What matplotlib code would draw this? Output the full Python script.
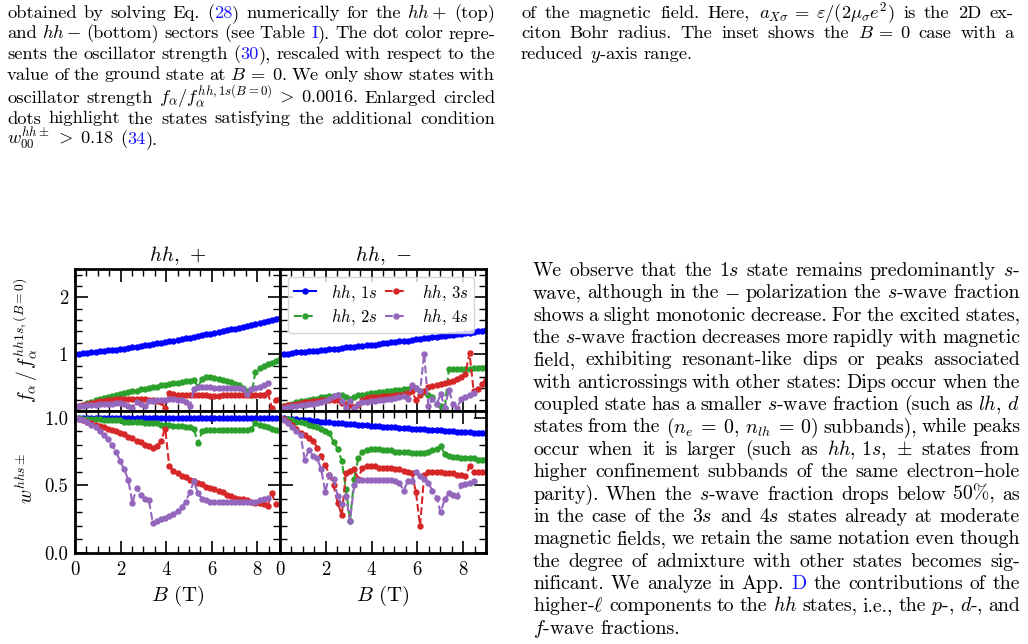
import re
import numpy as np
import matplotlib
matplotlib.use("Agg")
import matplotlib.pyplot as plt
from matplotlib.ticker import MultipleLocator, FixedLocator, FormatStrFormatter

plt.rcParams['font.family'] = ['cmr10', 'DejaVu Serif']
plt.rcParams['mathtext.fontset'] = 'cm'
plt.rcParams['axes.unicode_minus'] = False

# magnetic field grid (T)
B_T = [0.00, 0.18, 0.36, 0.54, 0.72, 0.90, 1.08, 1.26, 1.44, 1.62,
       1.80, 1.98, 2.16, 2.34, 2.52, 2.70, 2.88, 3.06, 3.24, 3.42,
       3.60, 3.78, 3.96, 4.14, 4.32, 4.50, 4.68, 4.86, 5.04, 5.22,
       5.40, 5.58, 5.76, 5.94, 6.12, 6.30, 6.48, 6.66, 6.84, 7.02,
       7.20, 7.38, 7.56, 7.74, 7.92, 8.10, 8.28, 8.46, 8.64, 8.82, 9.00]
nan = np.nan

# oscillator strength, hh+ sector
f_plus_1s = [1.00, 1.01, 1.02, 1.02, 1.03, 1.04, 1.05, 1.06, 1.07, 1.08,
             1.08, 1.09, 1.10, 1.11, 1.12, 1.13, 1.15, 1.16, 1.17, 1.18,
             1.19, 1.20, 1.21, 1.23, 1.24, 1.25, 1.27, 1.28, 1.29, 1.31,
             1.32, 1.33, 1.35, 1.36, 1.38, 1.39, 1.41, 1.42, 1.44, 1.45,
             1.47, 1.48, 1.50, 1.52, 1.53, 1.55, 1.57, 1.59, 1.60, 1.62, 1.64]
f_plus_2s = [0.06, 0.09, 0.11, 0.14, 0.16, 0.19, 0.21, 0.23, 0.25, 0.27,
             0.28, 0.30, 0.32, 0.33, 0.35, 0.36, 0.38, 0.39, 0.41, 0.42,
             0.43, 0.45, 0.46, 0.47, 0.49, 0.50, 0.51, 0.52, 0.53, 0.55,
             0.42, 0.57, 0.59, 0.59, 0.58, 0.57, 0.55, 0.53, 0.51, 0.48,
             0.45, 0.40, 0.35, 0.29, 0.68, 0.76, 0.79, 0.82, 0.85, 0.88, 0.91]
f_plus_3s = [0.07, 0.09, 0.11, 0.13, 0.14, 0.16, 0.17, 0.18, 0.19, 0.20,
             0.21, 0.21, 0.22, 0.22, 0.22, 0.22, 0.21, 0.21, 0.20, 0.19,
             0.18, 0.15, 0.05, 0.31, 0.30, 0.29, 0.29, 0.28, 0.28, 0.28,
             0.28, 0.28, 0.28, 0.27, 0.27, 0.27, 0.28, 0.28, 0.28, 0.28,
             0.28, 0.28, 0.28, 0.28, 0.28, 0.28, 0.29, 0.34, 0.05, 0.20, 0.22]
f_plus_4s = [0.07, 0.08, 0.09, 0.10, 0.11, 0.11, 0.12, 0.13, 0.13, 0.13,
             0.14, 0.14, 0.12, 0.09, 0.05, 0.15, 0.12, 0.09, 0.17, 0.18,
             0.19, 0.20, 0.20, 0.21, 0.21, 0.20, 0.19, 0.15, 0.08, 0.38,
             0.42, 0.43, 0.42, 0.42, 0.41, 0.41, 0.41, 0.40, 0.40, 0.40,
             0.40, 0.38, 0.30, 0.39, 0.41, 0.43, 0.45, 0.50, nan, nan, nan]

# oscillator strength, hh- sector
f_minus_1s = [1.00, 1.01, 1.01, 1.02, 1.03, 1.04, 1.04, 1.05, 1.06, 1.06,
              1.07, 1.08, 1.09, 1.10, 1.10, 1.11, 1.12, 1.13, 1.13, 1.14,
              1.15, 1.16, 1.17, 1.17, 1.18, 1.19, 1.20, 1.21, 1.22, 1.23,
              1.23, 1.24, 1.25, 1.26, 1.27, 1.28, 1.29, 1.30, 1.31, 1.32,
              1.32, 1.33, 1.34, 1.35, 1.36, 1.37, 1.38, 1.39, 1.40, 1.41, 1.42]
f_minus_2s = [0.07, 0.09, 0.11, 0.13, 0.15, 0.17, 0.18, 0.20, 0.21, 0.22,
              0.24, 0.25, 0.26, 0.27, 0.28, 0.28, 0.25, 0.21, 0.24, 0.28,
              0.29, 0.30, 0.31, 0.32, 0.33, 0.34, 0.35, 0.36, 0.37, 0.37,
              0.38, 0.39, 0.40, 0.41, 0.36, 0.33, 0.28, 0.24, 0.12, 0.08,
              0.05, 0.74, 0.74, 0.74, 0.74, 0.74, 0.74, 0.75, 0.75, 0.75, 0.75]
f_minus_3s = [0.06, 0.08, 0.10, 0.11, 0.13, 0.14, 0.15, 0.16, 0.17, 0.18,
              0.19, 0.19, 0.20, 0.20, 0.20, 0.14, 0.12, 0.10, 0.07, 0.10,
              0.20, 0.23, 0.24, 0.25, 0.25, 0.26, 0.27, 0.27, 0.28, 0.29,
              0.30, 0.31, 0.35, 0.20, 0.28, 0.36, 0.42, 0.44, 0.46, 0.47,
              0.49, 0.51, 0.53, 0.56, 0.60, 0.66, 1.02, 0.35, 0.38, 0.48, 0.55]
f_minus_4s = [0.05, 0.06, 0.07, 0.08, 0.09, 0.10, 0.11, 0.12, 0.13, 0.14,
              0.15, 0.17, 0.22, 0.26, 0.28, 0.18, 0.06, 0.17, 0.06, 0.13,
              0.15, 0.16, 0.17, 0.18, 0.19, 0.20, 0.21, 0.22, 0.23, 0.25,
              0.27, 0.21, 0.45, 0.40, 0.35, 1.01, 0.09, 0.21, 0.12, 0.30,
              0.06, 0.37, 0.12, 0.06, 0.21, 0.25, 0.29, 0.31, nan, nan, nan]

# s-wave weight, hh+ sector
w_plus_1s = [1.00, 1.00, 1.00, 1.00, 1.00, 1.00, 1.00, 1.00, 1.00, 1.00,
             1.00, 1.00, 1.00, 1.00, 1.00, 1.00, 1.00, 1.00, 1.00, 1.00,
             1.00, 1.00, 1.00, 1.00, 1.00, 1.00, 1.00, 1.00, 1.00, 1.00,
             1.00, 1.00, 1.00, 1.00, 1.00, 1.00, 1.00, 1.00, 1.00, 1.00,
             1.00, 1.00, 1.00, 1.00, 1.00, 1.00, 1.00, 1.00, 1.00, 1.00, 1.00]
w_plus_2s = [1.00, 1.00, 0.99, 0.99, 0.99, 0.99, 0.99, 0.98, 0.98, 0.98,
             0.98, 0.98, 0.97, 0.97, 0.97, 0.97, 0.97, 0.96, 0.96, 0.96,
             0.96, 0.95, 0.95, 0.95, 0.94, 0.94, 0.94, 0.93, 0.93, 0.92,
             0.81, 0.90, 0.91, 0.91, 0.91, 0.91, 0.91, 0.91, 0.91, 0.91,
             0.91, 0.91, 0.91, 0.92, 0.96, 0.95, 0.94, 0.93, 0.92, 0.91, 0.90]
w_plus_3s = [1.00, 0.99, 0.98, 0.97, 0.96, 0.95, 0.94, 0.93, 0.92, 0.91,
             0.90, 0.89, 0.88, 0.86, 0.85, 0.83, 0.82, 0.80, 0.79, 0.78,
             0.79, 0.83, 0.92, 0.64, 0.61, 0.59, 0.57, 0.56, 0.54, 0.53,
             0.52, 0.51, 0.49, 0.48, 0.47, 0.46, 0.45, 0.43, 0.42, 0.41,
             0.40, 0.40, 0.39, 0.38, 0.37, 0.37, 0.36, 0.35, 0.44, 0.36, 0.36]
w_plus_4s = [1.00, 0.99, 0.98, 0.97, 0.95, 0.93, 0.90, 0.87, 0.84, 0.80,
             0.75, 0.68, 0.62, 0.54, 0.37, 0.48, 0.43, 0.40, 0.39, 0.22,
             0.24, 0.25, 0.26, 0.27, 0.29, 0.31, 0.34, 0.38, 0.45, 0.53,
             0.44, 0.40, 0.39, 0.38, 0.38, 0.38, 0.38, 0.38, 0.38, 0.38,
             0.38, 0.38, 0.38, 0.38, 0.38, 0.39, 0.40, 0.41, nan, nan, nan]

# s-wave weight, hh- sector
w_minus_1s = [1.000, 0.997, 0.994, 0.991, 0.989, 0.986, 0.983, 0.980, 0.978, 0.975,
              0.972, 0.970, 0.967, 0.964, 0.962, 0.959, 0.957, 0.954, 0.952, 0.949,
              0.947, 0.945, 0.942, 0.940, 0.938, 0.935, 0.933, 0.931, 0.929, 0.926,
              0.924, 0.922, 0.920, 0.918, 0.916, 0.914, 0.912, 0.910, 0.908, 0.906,
              0.904, 0.902, 0.900, 0.898, 0.896, 0.895, 0.893, 0.891, 0.889, 0.888, 0.886]
w_minus_2s = [1.00, 0.99, 0.99, 0.98, 0.97, 0.97, 0.96, 0.95, 0.94, 0.93,
              0.92, 0.90, 0.89, 0.82, 0.77, 0.68, 0.47, 0.24, 0.55, 0.70,
              0.75, 0.76, 0.77, 0.77, 0.77, 0.76, 0.76, 0.76, 0.75, 0.75,
              0.75, 0.75, 0.74, 0.74, 0.74, 0.74, 0.75, 0.76, 0.77, 0.79,
              0.73, 0.72, 0.71, 0.71, 0.70, 0.70, 0.70, 0.70, 0.69, 0.69, 0.69]
w_minus_3s = [1.00, 0.99, 0.97, 0.95, 0.92, 0.89, 0.87, 0.85, 0.83, 0.78,
              0.72, 0.65, 0.58, 0.50, 0.37, 0.28, 0.59, 0.61, 0.62, 0.55,
              0.63, 0.64, 0.64, 0.64, 0.63, 0.63, 0.63, 0.63, 0.62, 0.62,
              0.61, 0.60, 0.59, 0.45, 0.20, 0.58, 0.60, 0.60, 0.60, 0.60,
              0.59, 0.59, 0.59, 0.58, 0.58, 0.57, 0.64, 0.60, 0.60, 0.60, 0.60]
w_minus_4s = [1.00, 0.98, 0.96, 0.93, 0.90, 0.87, 0.69, 0.76, 0.72, 0.70,
              0.62, 0.45, 0.58, 0.55, 0.42, 0.36, 0.42, 0.24, 0.50, 0.54,
              0.54, 0.54, 0.54, 0.54, 0.54, 0.54, 0.54, 0.54, 0.53, 0.52,
              0.46, 0.53, 0.53, 0.60, 0.57, 0.55, 0.52, 0.46, 0.41, 0.30,
              0.40, 0.44, 0.43, 0.42, 0.50, 0.51, 0.52, 0.53, nan, nan, nan]

labels = [r'$hh,\,1s$', r'$hh,\,2s$', r'$hh,\,3s$', r'$hh,\,4s$']
colors = ['#0000ff', '#2ca02c', '#d62728', '#9467bd']
styles = ['-', '--', '--', '--']

# page text (lines as typeset; @...@ marks blue links)
caption_left = [
    r"obtained by solving Eq. (@28@) numerically for the $hh+$ (top)",
    r"and $hh-$ (bottom) sectors (see Table @I@). The dot color repre-",
    r"sents the oscillator strength (@30@), rescaled with respect to the",
    r"value of the ground state at $B\:=\:0$. We only show states with",
    r"oscillator strength $f_\alpha/f_\alpha^{hh,1s(B=0)}\:>\:0.0016$. Enlarged circled",
    r"dots highlight the states satisfying the additional condition",
    r"$w_{00}^{hh\pm}\:>\:0.18$ (@34@).",
]
caption_right = [
    r"of the magnetic field. Here, $a_{X\sigma}\:=\:\varepsilon/(2\mu_\sigma e^2)$ is the 2D ex-",
    r"citon Bohr radius. The inset shows the $B\:=\:0$ case with a",
    r"reduced $y$-axis range.",
]
body = [
    r"We observe that the $1s$ state remains predominantly $s$-",
    r"wave, although in the $-$ polarization the $s$-wave fraction",
    r"shows a slight monotonic decrease. For the excited states,",
    r"the $s$-wave fraction decreases more rapidly with magnetic",
    r"field, exhibiting resonant-like dips or peaks associated",
    r"with anticrossings with other states: Dips occur when the",
    r"coupled state has a smaller $s$-wave fraction (such as $lh,\,d$",
    r"states from the $(n_e\:=\:0,\,n_{lh}\:=\:0)$ subbands), while peaks",
    r"occur when it is larger (such as $hh,\,1s,\,\pm$ states from",
    r"higher confinement subbands of the same electron–hole",
    r"parity). When the $s$-wave fraction drops below 50%, as",
    r"in the case of the $3s$ and $4s$ states already at moderate",
    r"magnetic fields, we retain the same notation even though",
    r"the degree of admixture with other states becomes sig-",
    r"nificant. We analyze in App. @D@ the contributions of the",
    r"higher-$\ell$ components to the $hh$ states, i.e., the $p$-, $d$-, and",
    r"$f$-wave fractions.",
]

W, H = 1028, 644
LINK = '#1a1aff'
fig = plt.figure(figsize=(W / 100, H / 100), dpi=100)
renderer = fig.canvas.get_renderer()


def put_line(line, x0, x1, base, size, justify=True):
    tokens = re.findall(r'(?:\$[^$]*\$|[^\s$])+', line)
    groups = []
    for tok in tokens:
        items = []
        for p in [q for q in re.split(r'(@[^@]*@)', tok) if q]:
            col = 'black'
            if p.startswith('@'):
                p, col = p[1:-1], LINK
            t = fig.text(0, 0, p, fontsize=size, color=col, va='baseline', ha='left')
            items.append((t, t.get_window_extent(renderer).width))
        groups.append(items)
    widths = [sum(w for _, w in g) for g in groups]
    if justify and len(groups) > 1:
        gap = (x1 - x0 - sum(widths)) / (len(groups) - 1)
    else:
        gap = size * 100 / 72 * 0.333
    x = x0
    for g, gw in zip(groups, widths):
        xx = x
        for t, w in g:
            t.set_position((xx / W, 1 - base / H))
            xx += w
        x += gw + gap


cap_base = [18, 38.5, 59, 79.5, 103, 123.5, 144]
for i, line in enumerate(caption_left):
    put_line(line, 7, 495, cap_base[i], 13.3, justify=i < len(caption_left) - 1)
for i, line in enumerate(caption_right):
    put_line(line, 521, 1014, cap_base[i], 13.3, justify=i < len(caption_right) - 1)
for i, line in enumerate(body):
    put_line(line, 533, 1020, 276 + 22.35 * i, 14.3, justify=i < len(body) - 1)


def px_axes(l, t, r, b):
    return fig.add_axes([l / W, 1 - b / H, (r - l) / W, (b - t) / H])


ax_tl = px_axes(75, 269, 280, 411)
ax_tr = px_axes(280, 269, 486, 411)
ax_bl = px_axes(75, 411, 280, 553)
ax_br = px_axes(280, 411, 486, 553)

panels = [
    (ax_tl, [f_plus_1s, f_plus_2s, f_plus_3s, f_plus_4s]),
    (ax_tr, [f_minus_1s, f_minus_2s, f_minus_3s, f_minus_4s]),
    (ax_bl, [w_plus_1s, w_plus_2s, w_plus_3s, w_plus_4s]),
    (ax_br, [w_minus_1s, w_minus_2s, w_minus_3s, w_minus_4s]),
]
for ax, series in panels:
    for ys, lab, c, ls in zip(series, labels, colors, styles):
        ax.plot(B_T, ys, ls, color=c, marker='o', ms=3.6, lw=1.5, label=lab)
    ax.set_xlim(0, 9)
    ax.xaxis.set_major_locator(MultipleLocator(2))
    ax.xaxis.set_minor_locator(MultipleLocator(0.5))
    ax.tick_params(which='both', direction='in', top=True, right=True,
                   labelsize=13.5)
    ax.tick_params(which='major', length=9, width=1.2)
    ax.tick_params(which='minor', length=5, width=1.0)
    ax.tick_params(axis='y', pad=5)
    ax.tick_params(axis='x', pad=6)
    for s in ax.spines.values():
        s.set_linewidth(2)

for ax in (ax_tl, ax_tr):
    ax.set_ylim(0, 2.5)
    ax.yaxis.set_major_locator(FixedLocator([1, 2]))
    ax.yaxis.set_minor_locator(MultipleLocator(0.2))
    ax.tick_params(labelbottom=False)
for ax in (ax_bl, ax_br):
    ax.set_ylim(0, 1.05)
    ax.yaxis.set_major_locator(MultipleLocator(0.5))
    ax.yaxis.set_minor_locator(MultipleLocator(0.1))
    ax.yaxis.set_major_formatter(FormatStrFormatter('%.1f'))
    ax.set_xlabel(r'$B$ (T)', fontsize=15, labelpad=3)
for ax in (ax_tr, ax_br):
    ax.tick_params(labelleft=False)

ax_tl.set_title(r'$hh,\,+$', fontsize=15, pad=6)
ax_tr.set_title(r'$hh,\,-$', fontsize=15, pad=6)
fig.text(40 / W, 1 - 340 / H, r'$f_\alpha\,/\,f_\alpha^{hh1s,(B=0)}$',
         fontsize=14, rotation=90, ha='right', va='center')
fig.text(37 / W, 1 - 478 / H, r'$w^{hhs\pm}$',
         fontsize=14, rotation=90, ha='right', va='center')

ax_tr.legend(loc='upper left', bbox_to_anchor=(0.039, 0.944), borderaxespad=0,
             ncol=2, fontsize=12, handlelength=1.3, handletextpad=0.9,
             columnspacing=0.5, labelspacing=0.25, borderpad=0.35,
             framealpha=0.8, edgecolor='0.8')

fig.savefig('out.png', dpi=100)
